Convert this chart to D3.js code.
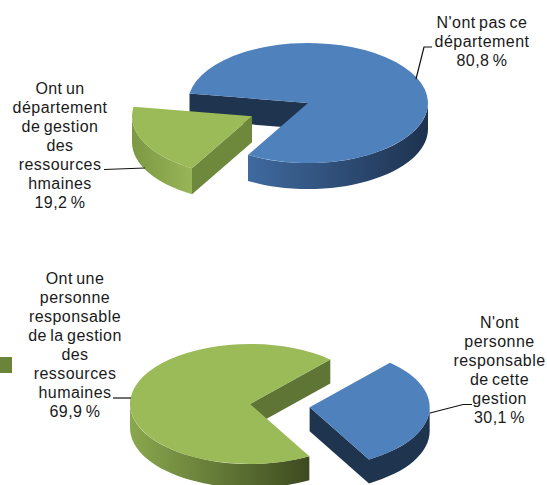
<!DOCTYPE html>
<html>
<head>
<meta charset="utf-8">
<style>
html, body { margin: 0; padding: 0; background: #fff; }
text { font-family: "Liberation Sans", Arial, sans-serif; font-size: 16px; fill: #1a1a1a; letter-spacing: 0.45px; word-spacing: -1.5px; }
</style>
</head>
<body>
<svg width="547" height="485"></svg>
<script src="https://cdn.jsdelivr.net/npm/d3@7"></script>
<script>
var topNames = ["Ont un département de gestion", "N'ont pas ce département"];
var topValues = [19.2, 80.8];
var bottomNames = ["N'ont personne responsable de cette gestion", "Ont une personne responsable de la gestion"];
var bottomValues = [30.1, 69.9];

var topLeftLines = ["Ont un", "département", "de gestion", "des", "ressources", "hmaines", "19,2 %"];
var topRightLines = ["N'ont pas ce", "département", "80,8 %"];
var bottomLeftLines = ["Ont une", "personne", "responsable", "de la gestion", "des", "ressources", "humaines", "69,9 %"];
var bottomRightLines = ["N'ont", "personne", "responsable", "de cette", "gestion", "30,1 %"];

var svg = d3.select("svg"),
  defs = svg.append("defs"),
  r = 120,
  squash = 0.5,
  rad = Math.PI / 180;

function gradient(id, from, to) {
  var g = defs.append("linearGradient").attr("id", id);
  g.append("stop").attr("offset", "0%").attr("stop-color", from);
  g.append("stop").attr("offset", "100%").attr("stop-color", to);
}
gradient("blueWall", "#3f6a9f", "#1e324f");
gradient("greenWallTop", "#7c9843", "#99b558");
gradient("greenWallBottom", "#8aa84e", "#3d4a20");

var arc = d3.arc().innerRadius(0).outerRadius(r);

function px(a) { return r * Math.sin(a); }
function py(a) { return -r * Math.cos(a); }

// outer rim, only the part of the circle that faces the viewer
function rimPath(a0, a1, depth) {
  var from = a0, to = a1, turn = Math.PI * 2;
  var lo = Math.PI / 2, hi = Math.PI * 1.5;
  while (to - turn > lo) { from -= turn; to -= turn; }
  from = Math.max(from, lo);
  to = Math.min(to, hi);
  if (to <= from) return null;
  var p = d3.path();
  p.moveTo(px(from), py(from));
  p.arc(0, 0, r, from - Math.PI / 2, to - Math.PI / 2);
  p.lineTo(px(to), py(to) + depth);
  p.arc(0, depth, r, to - Math.PI / 2, from - Math.PI / 2, true);
  p.closePath();
  return p.toString();
}

// flat cut face from the centre out to the edge at angle a
function cutPath(a, depth) {
  var p = d3.path();
  p.moveTo(0, 0);
  p.lineTo(px(a), py(a));
  p.lineTo(px(a), py(a) + depth);
  p.lineTo(0, depth);
  p.closePath();
  return p.toString();
}

function drawPie(opts) {
  var slices = d3.pie().sort(null)
    .startAngle(opts.start * rad)
    .endAngle((opts.start + 360) * rad)(opts.values);

  var depth = opts.depth / squash;
  var root = svg.append("g").attr("transform", "translate(" + opts.cx + "," + opts.cy + ") scale(1," + squash + ")");

  opts.order.forEach(function(i) {
    var d = slices[i], style = opts.styles[i];
    var mid = (d.startAngle + d.endAngle) / 2;
    var g = root.append("g")
      .attr("transform", "translate(" + opts.explode[i] * Math.sin(mid) + "," + (-opts.explode[i] * Math.cos(mid)) + ")");

    style.cuts.forEach(function(which) {
      g.append("path")
        .attr("d", cutPath(which === "start" ? d.startAngle : d.endAngle, depth))
        .attr("fill", style.cut);
    });
    var rim = rimPath(d.startAngle, d.endAngle, depth);
    if (rim) g.append("path").attr("d", rim).attr("fill", style.rim);
    g.append("path").attr("d", arc(d)).attr("fill", style.face);
  });
}

drawPie({
  values: topValues, start: 210, cx: 308, cy: 103, depth: 26,
  order: [1, 0], explode: [62, 0],
  styles: [
    { face: "#9bbb59", rim: "url(#greenWallTop)", cut: "#6e883c", cuts: ["start"] },
    { face: "#4f81bd", rim: "url(#blueWall)", cut: "#1f344f", cuts: ["start"] }
  ]
});

drawPie({
  values: bottomValues, start: 42, cx: 250, cy: 404, depth: 24,
  order: [1, 0], explode: [60, 0],
  styles: [
    { face: "#4f81bd", rim: "#1f344f", cut: "#1f344f", cuts: ["end"] },
    { face: "#9bbb59", rim: "url(#greenWallBottom)", cut: "#5f7536", cuts: ["end"] }
  ]
});

// leader lines
var line = d3.line();
var leaders = [
  [[416, 79], [424, 47], [432, 47]],
  [[145, 168], [104, 169.5]],
  [[131, 398], [113, 398]],
  [[430, 413], [463, 404.5], [472, 404.5]]
];
svg.selectAll(".leader").data(leaders).enter().append("path")
  .attr("class", "leader")
  .attr("d", line)
  .attr("fill", "none")
  .attr("stroke", "#111")
  .attr("stroke-width", 1.2);

function drawLines(lines, x, y, step) {
  svg.append("g").selectAll("text").data(lines).enter().append("text")
    .attr("text-anchor", "middle")
    .attr("x", x)
    .attr("y", function(d, i) { return y + i * step; })
    .text(function(d) { return d; });
}
drawLines(topRightLines, 482, 28, 19);
drawLines(topLeftLines, 60, 94, 19);
drawLines(bottomLeftLines, 75, 284, 19);
drawLines(bottomRightLines, 499.5, 328, 18.9);

// stray legend swatch on the left edge
svg.append("rect").attr("x", 0).attr("y", 357).attr("width", 12).attr("height", 16).attr("fill", "#6a8439");
</script>
</body>
</html>
